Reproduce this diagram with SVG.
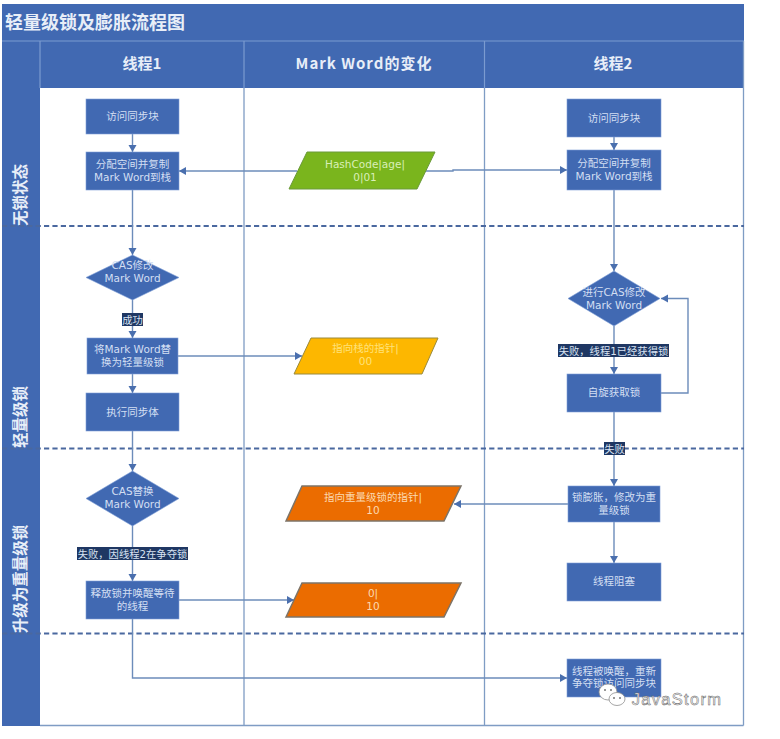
<svg xmlns="http://www.w3.org/2000/svg" width="780" height="739" viewBox="0 0 780 739">
<style>
text{font-family:"Noto Sans CJK SC","Noto Sans",sans-serif;text-anchor:middle}
.band{fill:#4169b2}
.sep{stroke:#7b9bd0;stroke-width:1.2;fill:none}
.grid{stroke:#7f9cc4;stroke-width:1.3;fill:none}
.dash{stroke:#4a689f;stroke-width:2.200;stroke-dasharray:5.200 3.200;fill:none}
.title{fill:#e8eef8;font-size:18px;font-weight:700;text-anchor:start}
.head{fill:#e8eef8;font-size:15px;font-weight:700}
.lane{fill:#e8eef8;font-size:15.500px;font-weight:700}
.box{fill:#4169b2;stroke:#7f9fd6;stroke-width:.6}
.t,.y,.o,.g,.l{font-family:"DejaVu Sans","Noto Sans CJK SC",sans-serif;font-size:10.500px}
.t{fill:#d3dff2}
.y{fill:#ffe27a}
.o{fill:#fbd9b0}
.g{fill:#d9efb8}
.c{stroke:#6c8cba;stroke-width:1.400;fill:none;marker-end:url(#a)}
.lb{fill:#1f3763}
.l{fill:#d8e2f2;font-size:10.300px}
.wm{font-family:"Liberation Sans",sans-serif;font-size:16.500px;letter-spacing:1.300px;fill:#f2f2f2;stroke:#666;stroke-width:.5}
</style>
<defs>
<marker id="a" markerUnits="userSpaceOnUse" markerWidth="9" markerHeight="9" refX="7" refY="4" orient="auto"><path d="M0 0L7 4L0 8Z" fill="#4a6fae"/></marker>
</defs>
<rect width="780" height="739" fill="#fff"/>
<g id="frame">
<rect class="band" x="2" y="4" width="742" height="84"/>
<rect class="band" x="2" y="88" width="38" height="638"/>
<path class="sep" d="M2 41H744M40 41V88M244 41V88M484.500 41V88"/>
<path class="grid" d="M244 88V725.500M484.500 88V725.500M743.500 41V725.500M40 725.500H743.500"/>
<text class="title" x="5" y="29">轻量级锁及膨胀流程图</text>
<text class="head" x="142" y="69">线程1</text>
<text class="head" x="364" y="69" letter-spacing="1">Mark Word的变化</text>
<text class="head" x="613" y="69">线程2</text>
<text class="lane" transform="translate(26 195) rotate(-90)">无锁状态</text>
<text class="lane" transform="translate(26 417) rotate(-90)">轻量级锁</text>
<text class="lane" transform="translate(26 579) rotate(-90)">升级为重量级锁</text>
<path class="dash" d="M2 226H744M2 448.500H744M2 633.500H744"/>
</g>
<g id="connectors">
<path class="c" d="M132.500 134V152"/>
<path class="c" d="M132.500 190V255"/>
<path class="c" d="M132.500 300V338"/>
<path class="c" d="M132.500 374V393"/>
<path class="c" d="M132.500 431V471"/>
<path class="c" d="M132.500 526V581"/>
<path class="c" d="M132.500 619V678H567"/>
<path class="c" d="M297 171H179"/>
<path class="c" d="M426 171H453V170H567"/>
<path class="c" d="M178 356H302"/>
<path class="c" d="M179 600H294"/>
<path class="c" d="M614 137V150"/>
<path class="c" d="M614 190V271"/>
<path class="c" d="M614 326V374"/>
<path class="c" d="M614 412V486"/>
<path class="c" d="M614 522V563"/>
<path class="c" d="M661 393H688V298.500H661"/>
<path class="c" d="M568 504H454"/>
<rect class="lb" x="122" y="313" width="21" height="13"/><text class="l" x="132.500" y="323.500">成功</text>
<rect class="lb" x="558" y="344" width="111" height="13"/><text class="l" x="613.500" y="354.500">失败，线程1已经获得锁</text>
<rect class="lb" x="604" y="442" width="21" height="13"/><text class="l" x="614.500" y="452.500">失败</text>
<rect class="lb" x="77" y="547" width="111" height="13"/><text class="l" x="132.500" y="557.500">失败，因线程2在争夺锁</text>
</g>
<g id="t1-access"><rect class="box" x="86" y="99" width="93" height="35"/><text class="t" x="132.500" y="120">访问同步块</text></g>
<g id="t1-alloc"><rect class="box" x="86" y="152" width="93" height="38"/><text class="t" x="132.500" y="168">分配空间并复制<tspan x="132.500" dy="13">Mark Word到栈</tspan></text></g>
<g id="t1-cas"><path class="box" d="M132.500 255L179 277.500L132.500 300L86 277.500Z"/><text class="t" x="132.500" y="269">CAS修改<tspan x="132.500" dy="13">Mark Word</tspan></text></g>
<g id="t1-replace"><rect class="box" x="87" y="338" width="91" height="36"/><text class="t" x="132.500" y="353">将Mark Word替<tspan x="132.500" dy="13">换为轻量级锁</tspan></text></g>
<g id="t1-exec"><rect class="box" x="86" y="393" width="93" height="38"/><text class="t" x="132.500" y="415.500">执行同步体</text></g>
<g id="t1-cas2"><path class="box" d="M132.500 471L179 498.500L132.500 526L86 498.500Z"/><text class="t" x="132.500" y="495">CAS替换<tspan x="132.500" dy="13">Mark Word</tspan></text></g>
<g id="t1-release"><rect class="box" x="86" y="581" width="93" height="38"/><text class="t" x="132.500" y="597">释放锁并唤醒等待<tspan x="132.500" dy="13">的线程</tspan></text></g>
<g id="mw-hash"><path d="M289 189L307 152H435L417 189Z" fill="#7ab51d" stroke="#6a9a3a"/><text class="g" x="365" y="168">HashCode|age|<tspan x="365" dy="13">0|01</tspan></text></g>
<g id="mw-stack"><path d="M294 374L311 338H438L422 374Z" fill="#fdb700" stroke="#9a8a3c"/><text class="y" x="365.500" y="352">指向栈的指针|<tspan x="365.500" dy="13">00</tspan></text></g>
<g id="mw-heavy"><path d="M286 521L302 486H461L444 521Z" fill="#eb6c00" stroke="#7d7468" stroke-width="1.500"/><text class="o" x="373" y="501">指向重量级锁的指针|<tspan x="373" dy="12.500">10</tspan></text></g>
<g id="mw-zero"><path d="M286 617L302 583H461L444 617Z" fill="#eb6c00" stroke="#7d7468" stroke-width="1.500"/><text class="o" x="373" y="597">0|<tspan x="373" dy="13">10</tspan></text></g>
<g id="t2-access"><rect class="box" x="567" y="99" width="94" height="38"/><text class="t" x="614" y="122">访问同步块</text></g>
<g id="t2-alloc"><rect class="box" x="567" y="150" width="94" height="40"/><text class="t" x="614" y="167">分配空间并复制<tspan x="614" dy="13">Mark Word到栈</tspan></text></g>
<g id="t2-cas"><path class="box" d="M614 271L660 298.500L614 326L568 298.500Z"/><text class="t" x="614" y="296">进行CAS修改<tspan x="614" dy="12.500">Mark Word</tspan></text></g>
<g id="t2-spin"><rect class="box" x="567" y="374" width="94" height="38"/><text class="t" x="614" y="396">自旋获取锁</text></g>
<g id="t2-inflate"><rect class="box" x="568" y="486" width="92" height="36"/><text class="t" x="614" y="501">锁膨胀，修改为重<tspan x="614" dy="12.500">量级锁</tspan></text></g>
<g id="t2-block"><rect class="box" x="567" y="563" width="94" height="38"/><text class="t" x="614" y="585">线程阻塞</text></g>
<g id="t2-wake"><rect class="box" x="567" y="659" width="94" height="38"/><text class="t" x="614" y="674.500">线程被唤醒，重新<tspan x="614" dy="12.500">争夺锁访问同步块</tspan></text></g>
<g id="watermark">
<ellipse cx="608" cy="692" rx="9" ry="8" fill="#fff" stroke="#8f8f8f" stroke-width=".8"/>
<ellipse cx="617" cy="699" rx="8" ry="6.500" fill="#fff" stroke="#8f8f8f" stroke-width=".8"/>
<circle cx="605" cy="690" r="1" fill="#777"/><circle cx="611" cy="690" r="1" fill="#777"/>
<circle cx="614" cy="698" r="1" fill="#777"/><circle cx="620" cy="698" r="1" fill="#777"/>
<text class="wm" x="677" y="704.500">JavaStorm</text>
</g>
</svg>
